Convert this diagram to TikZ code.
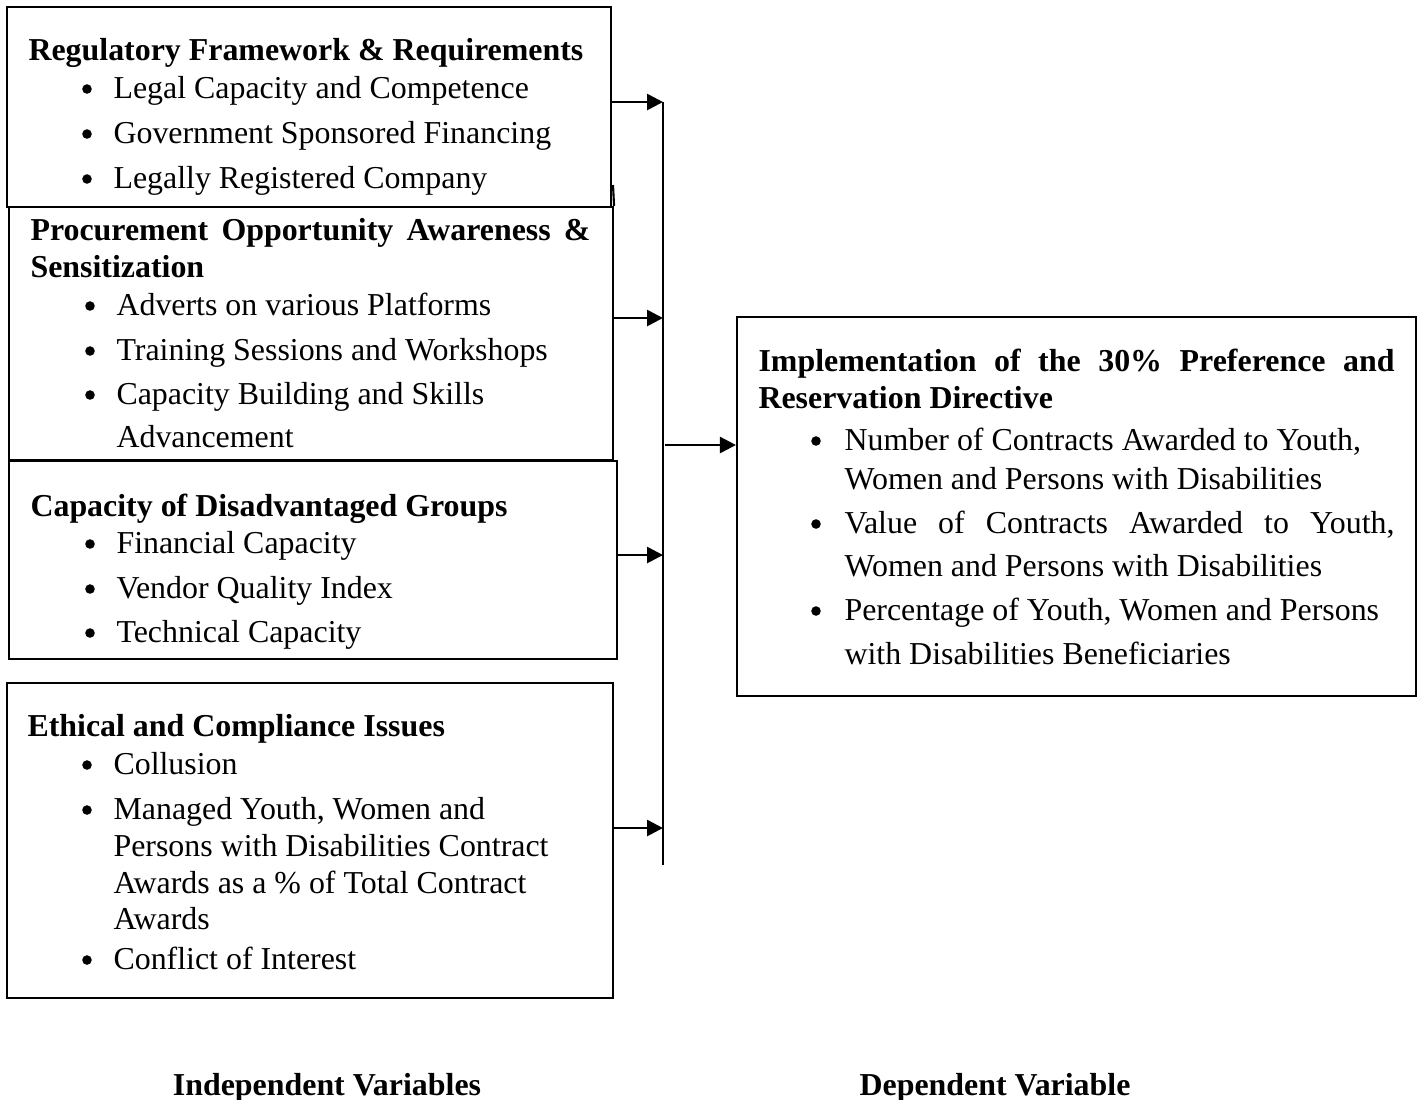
\documentclass[tikz,border=0pt]{standalone}
\usepackage{fontspec}
\setmainfont{Liberation Serif}
\usetikzlibrary{arrows.meta,fit}
\newlength\pxu \setlength\pxu{0.3762pt}
\begin{document}
\begin{tikzpicture}[x=\pxu,y=-\pxu,
  box/.style={draw, line width=0.8pt, inner sep=0pt},
  txt/.style={anchor=base west, inner sep=0pt, font=\fontsize{12}{14}\selectfont},
  hd/.style={anchor=base west, inner sep=0pt, font=\fontsize{12}{14}\selectfont\bfseries},
  lbl/.style={anchor=base, inner sep=0pt, font=\fontsize{12}{14}\selectfont\bfseries},
  bul/.style={circle, fill, inner sep=0pt, minimum size=3.6pt},
  arr/.style={line width=1pt, -{Triangle[length=6pt,width=6pt]}},
  bus/.style={line width=0.8pt}]
\useasboundingbox (0,0) rectangle (1419,1099);

% boxes
\node[box, fit={(7,7) (611,207)}] (b1) {};
\node[box, fit={(9,207) (613,460)}] (b2) {};
\coordinate (b2x) at (613,185);
\draw[line width=0.8pt] (b2x) -- (b2.north east);
\node[box, fit={(9,461) (617,659)}] (b3) {};
\node[box, fit={(7,683) (613,998)}] (b4) {};
\node[box, fit={(737,317) (1416,696)}] (dv) {};

% box 1
\node[hd] (h1) at (28,60) {Regulatory Framework \& Requirements};
\node[bul] (p11) at (87,89) {};
\node[txt] (t11) at (113,98) {Legal Capacity and Competence};
\node[bul] (p12) at (87,134) {};
\node[txt] (t12) at (113,143) {Government Sponsored Financing};
\node[bul] (p13) at (87,179) {};
\node[txt] (t13) at (113,188) {Legally Registered Company};

% box 2
\node[hd] (h2a) at (30,240) {\makebox[560\pxu][s]{Procurement Opportunity Awareness \&}};
\node[hd] (h2b) at (30,277) {Sensitization};
\node[bul] (p21) at (90,306) {};
\node[txt] (t21) at (116,315) {Adverts on various Platforms};
\node[bul] (p22) at (90,351) {};
\node[txt] (t22) at (116,360) {Training Sessions and Workshops};
\node[bul] (p23) at (90,395) {};
\node[txt] (t23) at (116,404) {Capacity Building and Skills};
\node[txt] (t24) at (116,447) {Advancement};

% box 3
\node[hd] (h3) at (30,516) {Capacity of Disadvantaged Groups};
\node[bul] (p31) at (90,544) {};
\node[txt] (t31) at (116,553) {Financial Capacity};
\node[bul] (p32) at (90,589) {};
\node[txt] (t32) at (116,598) {Vendor Quality Index};
\node[bul] (p33) at (90,633) {};
\node[txt] (t33) at (116,642) {Technical Capacity};

% box 4
\node[hd] (h4) at (27,736) {Ethical and Compliance Issues};
\node[bul] (p41) at (87,765) {};
\node[txt] (t41) at (113,774) {Collusion};
\node[bul] (p42) at (87,810) {};
\node[txt] (t42) at (113,819) {Managed Youth, Women and};
\node[txt] (t43) at (113,856) {Persons with Disabilities Contract};
\node[txt] (t44) at (113,893) {Awards as a \% of Total Contract};
\node[txt] (t45) at (113,929) {Awards};
\node[bul] (p43) at (87,960) {};
\node[txt] (t46) at (113,969) {Conflict of Interest};

% dependent variable box
\node[hd] (h5a) at (758,371) {\makebox[636\pxu][s]{Implementation of the 30\% Preference and}};
\node[hd] (h5b) at (758,408) {Reservation Directive};
\node[bul] (p51) at (816,441) {};
\node[txt] (t51) at (844,450) {Number of Contracts Awarded to Youth,};
\node[txt] (t52) at (844,489) {Women and Persons with Disabilities};
\node[bul] (p52) at (816,524) {};
\node[txt] (t53) at (844,533) {\makebox[550\pxu][s]{Value of Contracts Awarded to Youth,}};
\node[txt] (t54) at (844,576) {Women and Persons with Disabilities};
\node[bul] (p53) at (816,611) {};
\node[txt] (t55) at (844,620) {Percentage of Youth, Women and Persons};
\node[txt] (t56) at (844,664) {with Disabilities Beneficiaries};

% bus and arrows
\coordinate (j1) at (663,102);
\coordinate (j2) at (663,318);
\coordinate (j3) at (663,555);
\coordinate (j4) at (663,828);
\coordinate (jend) at (663,865);
\coordinate (jout) at (665,445);
\draw[bus] (j1) -- (jend);
\draw[arr] (b1.east |- j1) -- (j1);
\draw[arr] (b2.east |- j2) -- (j2);
\draw[arr] (b3.east |- j3) -- (j3);
\draw[arr] (b4.east |- j4) -- (j4);
\draw[arr] (jout) -- (dv.west |- jout);

% labels
\node[lbl] (iv) at (327,1095) {Independent Variables};
\node[lbl] (dvl) at (995,1095) {Dependent Variable};
\end{tikzpicture}
\end{document}
